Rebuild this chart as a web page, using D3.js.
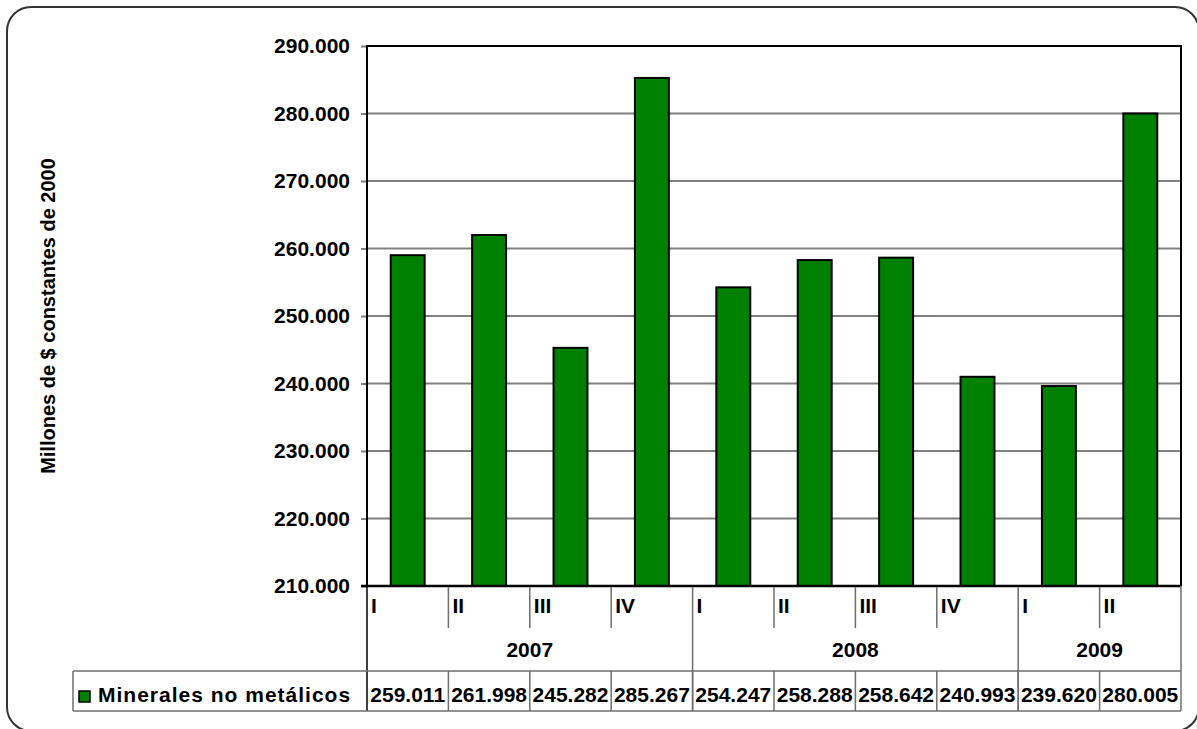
<!DOCTYPE html>
<html>
<head>
<meta charset="utf-8">
<script src="https://cdn.jsdelivr.net/npm/d3@7"></script>
<style>
  body { margin: 0; background: #fff; }
  text { font-family: "Liberation Sans", Arial, sans-serif; font-weight: bold; fill: #000; }
</style>
</head>
<body>
<script>
// data
var quarters = ["I", "II", "III", "IV", "I", "II", "III", "IV", "I", "II"];
var years = ["2007", "2007", "2007", "2007", "2008", "2008", "2008", "2008", "2009", "2009"];
var values = [259011, 261998, 245282, 285267, 254247, 258288, 258642, 240993, 239620, 280005];
var seriesName = "Minerales no metálicos";
var yTicks = [210000, 220000, 230000, 240000, 250000, 260000, 270000, 280000, 290000];
var yTitle = "Millones de $ constantes de 2000";

(function() {
    var width = 1197, height = 729;
    var plotLeft = 367, plotRight = 1181, plotTop = 46, plotBottom = 586;
    var barColor = "#008000",
        gridColor = "#808080",
        tableColor = "#6e6e6e";

    var loc = d3.formatLocale({ decimal: ",", thousands: ".", grouping: [3] });
    var fmt = loc.format(",.0f");

    var svg = d3.select("body").append("svg")
        .attr("width", width)
        .attr("height", height);

    // outer rounded frame
    svg.append("rect")
        .attr("x", 7).attr("y", 7)
        .attr("width", 1192).attr("height", 724)
        .attr("rx", 24).attr("ry", 24)
        .attr("fill", "none")
        .attr("stroke", "#333")
        .attr("stroke-width", 2);

    var idx = d3.range(values.length);
    var x = d3.scaleBand()
        .domain(idx)
        .range([plotLeft, plotRight])
        .paddingInner(0.583)
        .paddingOuter(0.2915);
    var step = x.step();
    var cellLeft = function(i) { return plotLeft + step * i; };

    var y = d3.scaleLinear()
        .domain([210000, 290000])
        .range([plotBottom, plotTop]);

    // gridlines
    svg.append("g")
        .selectAll("line")
        .data(yTicks.slice(1, -1))
        .enter().append("line")
        .attr("x1", plotLeft).attr("x2", plotRight)
        .attr("y1", function(d) { return y(d); })
        .attr("y2", function(d) { return y(d); })
        .attr("stroke", gridColor)
        .attr("stroke-width", 2);

    // y axis
    var yAxis = svg.append("g")
        .attr("transform", "translate(" + plotLeft + ",0)")
        .call(d3.axisLeft(y).tickValues(yTicks).tickFormat(fmt).tickSize(6).tickPadding(11));
    yAxis.select(".domain").remove();
    yAxis.selectAll(".tick line").attr("stroke", gridColor).attr("stroke-width", 2);
    yAxis.selectAll(".tick text")
        .style("font-family", "'Liberation Sans', Arial, sans-serif")
        .style("font-weight", "bold")
        .style("font-size", "21px")
        .attr("fill", "#000");

    // bars
    svg.append("g")
        .selectAll("rect")
        .data(values)
        .enter().append("rect")
        .attr("x", function(d, i) { return x(i); })
        .attr("y", function(d) { return y(d); })
        .attr("width", x.bandwidth())
        .attr("height", function(d) { return y(210000) - y(d); })
        .attr("fill", barColor)
        .attr("stroke", "#000")
        .attr("stroke-width", 2);

    // plot frame
    svg.append("path")
        .attr("d", "M" + plotLeft + "," + plotBottom + "V" + plotTop + "H" + plotRight + "V" + plotBottom)
        .attr("fill", "none")
        .attr("stroke", "#000")
        .attr("stroke-width", 2);
    svg.append("line")
        .attr("x1", plotLeft - 6).attr("x2", plotRight)
        .attr("y1", plotBottom).attr("y2", plotBottom)
        .attr("stroke", "#000")
        .attr("stroke-width", 2.5);

    // y title
    svg.append("text")
        .attr("transform", "translate(55,316) rotate(-90)")
        .attr("text-anchor", "middle")
        .style("font-size", "20px")
        .text(yTitle);

    // category table
    var t = svg.append("g");
    var rowQ = 587, rowY = 628, rowD = 671, rowEnd = 711;

    // quarter separators (year boundaries run full height)
    t.selectAll("line.q")
        .data(idx.slice(1))
        .enter().append("line")
        .attr("x1", function(i) { return cellLeft(i); })
        .attr("x2", function(i) { return cellLeft(i); })
        .attr("y1", rowQ)
        .attr("y2", function(i) { return years[i] !== years[i - 1] ? rowEnd : rowY; })
        .attr("stroke", tableColor)
        .attr("stroke-width", 1.5);

    // value row separators
    t.selectAll("line.d")
        .data(idx.slice(1))
        .enter().append("line")
        .attr("x1", function(i) { return cellLeft(i); })
        .attr("x2", function(i) { return cellLeft(i); })
        .attr("y1", rowD)
        .attr("y2", rowEnd)
        .attr("stroke", tableColor)
        .attr("stroke-width", 1.5);

    // table edges
    t.append("line").attr("x1", plotLeft).attr("x2", plotLeft).attr("y1", plotBottom).attr("y2", rowEnd)
        .attr("stroke", "#000").attr("stroke-width", 1.5);
    t.append("line").attr("x1", plotRight).attr("x2", plotRight).attr("y1", plotBottom).attr("y2", rowEnd)
        .attr("stroke", tableColor).attr("stroke-width", 1.5);
    t.append("line").attr("x1", 73).attr("x2", plotRight).attr("y1", rowD).attr("y2", rowD)
        .attr("stroke", tableColor).attr("stroke-width", 1.5);
    t.append("line").attr("x1", 73).attr("x2", plotRight).attr("y1", rowEnd).attr("y2", rowEnd)
        .attr("stroke", tableColor).attr("stroke-width", 1.5);
    t.append("line").attr("x1", 73).attr("x2", 73).attr("y1", rowD).attr("y2", rowEnd)
        .attr("stroke", tableColor).attr("stroke-width", 1.5);

    // quarter labels
    t.selectAll("text.q")
        .data(quarters)
        .enter().append("text")
        .attr("x", function(d, i) { return cellLeft(i) + 4; })
        .attr("y", 613)
        .style("font-size", "21px")
        .text(function(d) { return d; });

    // year labels centred over their quarters
    var yearGroups = d3.groups(idx, function(i) { return years[i]; });
    t.selectAll("text.y")
        .data(yearGroups)
        .enter().append("text")
        .attr("x", function(g) {
            var a = g[1][0], b = g[1][g[1].length - 1];
            return (cellLeft(a) + cellLeft(b + 1)) / 2;
        })
        .attr("y", 657)
        .attr("text-anchor", "middle")
        .style("font-size", "21px")
        .text(function(g) { return g[0]; });

    // values
    t.selectAll("text.v")
        .data(values)
        .enter().append("text")
        .attr("x", function(d, i) { return cellLeft(i) + step / 2; })
        .attr("y", 702)
        .attr("text-anchor", "middle")
        .style("font-size", "21px")
        .text(function(d) { return fmt(d); });

    // legend key
    t.append("rect")
        .attr("x", 79).attr("y", 691)
        .attr("width", 11).attr("height", 11)
        .attr("fill", barColor)
        .attr("stroke", "#000")
        .attr("stroke-width", 1.5);
    t.append("text")
        .attr("x", 98)
        .attr("y", 702)
        .style("font-size", "21px")
        .style("letter-spacing", "1px")
        .text(seriesName);
})();
</script>
</body>
</html>
